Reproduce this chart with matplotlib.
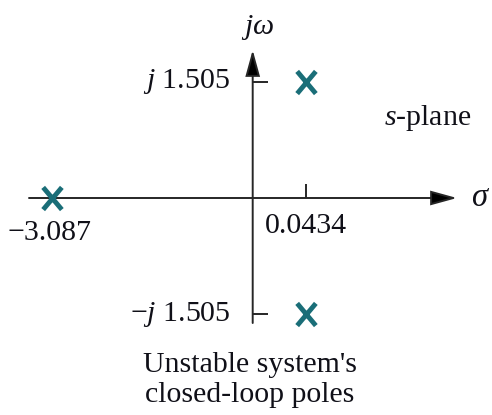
"""Closed-loop pole locations in the s-plane (not to scale)."""

import numpy as np
import matplotlib.pyplot as plt
from matplotlib.patches import FancyArrowPatch
from matplotlib.path import Path

plt.rcParams["font.family"] = "Liberation Serif"
plt.rcParams["mathtext.fontset"] = "custom"
plt.rcParams["mathtext.rm"] = "Liberation Serif"
plt.rcParams["mathtext.it"] = "Liberation Serif:italic"

# pole locations
pole_re = [-3.087, 0.0434, 0.0434]
pole_im = [0.0, 1.505, -1.505]
re_labels = ["\u22123.087", "0.0434"]
im_labels = ["$j$ 1.505", "\u2212$j$ 1.505"]
caption = "Unstable system's\nclosed-loop poles"

TEXT = "#101018"
AXIS = "#262626"
POLE = "#1a6e78"
FS = 21.5

# sketch scale: left half-plane squeezed, right half-plane stretched
NEG, POS = 65.0, 1221.0


def fwd(x):
    x = np.asarray(x, dtype=float)
    return np.where(x < 0, x * NEG, x * POS)


def inv(u):
    u = np.asarray(u, dtype=float)
    return np.where(u < 0, u / NEG, u / POS)


fig = plt.figure(figsize=(4.92, 4.15), dpi=100)
ax = fig.add_axes([0, 0, 1, 1])
ax.set_xscale("function", functions=(fwd, inv))
ax.set_xlim(-252.7 / NEG, 239.3 / POS)
ax.set_ylim(-217 / 77.4, 198 / 77.4)
ax.axis("off")

# axes with arrowheads (x in axes fraction, y in data and vice versa)
ytf = ax.get_yaxis_transform()
xtf = ax.get_xaxis_transform()
arrow_kw = dict(arrowstyle="-|>,head_length=16,head_width=4.4",
                mutation_scale=1, lw=1.4, ec=AXIS, fc="black",
                shrinkA=0, shrinkB=0, joinstyle="miter")
ax.add_patch(FancyArrowPatch((29 / 492, 0), (457 / 492, 0),
                             transform=ytf, **arrow_kw))
ax.add_patch(FancyArrowPatch((0, 1 - 323 / 415), (0, 1 - 50 / 415),
                             transform=xtf, **arrow_kw))

# short ticks marking the pole coordinates
ax.plot([0, 0], pole_im[1:], ls="none", marker=1, ms=11, mew=1.4, color=AXIS)
ax.plot([pole_re[1]], [0], ls="none", marker=2, ms=10, mew=1.4, color=AXIS)

# poles drawn as slightly tall crosses
cross = Path([(-0.42, -0.5), (0.42, 0.5), (-0.42, 0.5), (0.42, -0.5)],
             [Path.MOVETO, Path.LINETO, Path.MOVETO, Path.LINETO])
ax.plot(pole_re, pole_im, ls="none", marker=cross, ms=16, mew=3.5,
        color=POLE, solid_capstyle="butt")

tk = dict(textcoords="offset points", color=TEXT, fontsize=FS)
ax.annotate(re_labels[0], (pole_re[0], 0), xytext=(-1.5, -25),
            ha="center", va="center", **tk)
ax.annotate(re_labels[1], (pole_re[1], 0), xytext=(0, -20),
            ha="center", va="center", **tk)
ax.annotate(im_labels[0], (0, pole_im[1]), xytext=(-16, 0),
            ha="right", va="center", **tk)
ax.annotate(im_labels[1], (0, pole_im[2]), xytext=(-16, 0),
            ha="right", va="center", **tk)

ax.text(258 / 492, 1 - 28 / 415, "$j\\omega$", transform=ax.transAxes,
        ha="center", va="center", color=TEXT, fontsize=FS)
ax.text(481 / 492, 0, "$\\sigma$", transform=ytf,
        ha="center", va="center", color=TEXT, fontsize=FS + 2)
ax.text(428 / 492, 1 - 118 / 415, "$s$-plane", transform=ax.transAxes,
        ha="center", va="center", color=TEXT, fontsize=FS)
ax.text(250 / 492, 1 - 380 / 415, caption, transform=ax.transAxes,
        ha="center", va="center", color=TEXT, fontsize=FS, linespacing=1.2)

fig.savefig("out.png", dpi=100)
